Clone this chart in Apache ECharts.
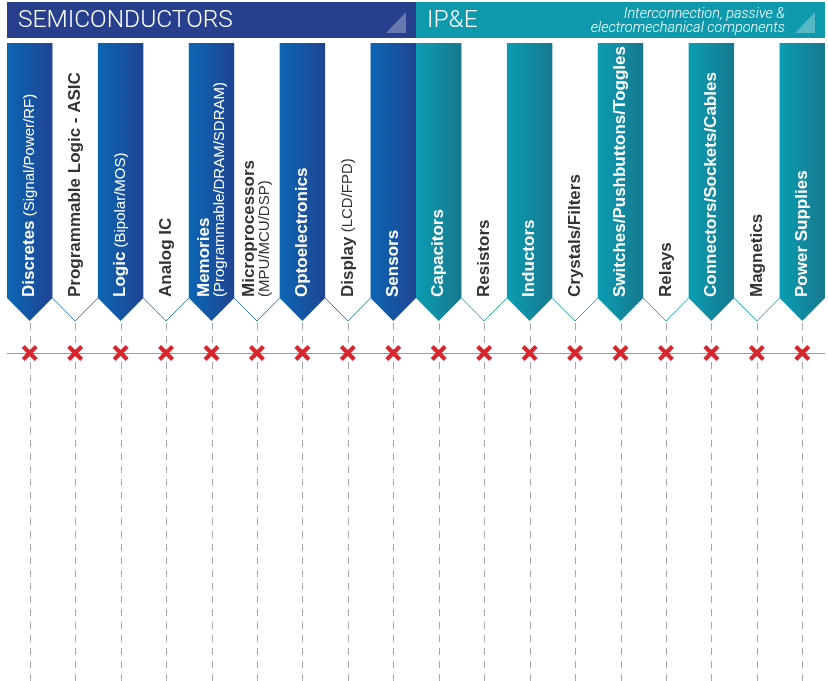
<!DOCTYPE html>
<html><head><meta charset="utf-8">
<script src="https://cdn.jsdelivr.net/npm/echarts@6/dist/echarts.min.js"></script>
<style>html,body{margin:0;padding:0;background:#fff}#c{width:828px;height:681px}</style>
</head><body><div id="c"></div>
<script>
// ---- data ----
const categories = ['Discretes','Programmable Logic - ASIC','Logic','Analog IC','Memories','Microprocessors','Optoelectronics','Display','Sensors','Capacitors','Resistors','Inductors','Crystals/Filters','Switches/Pushbuttons/Toggles','Relays','Connectors/Sockets/Cables','Magnetics','Power Supplies'];
const subLabels = ['(Signal/Power/RF)','','(Bipolar/MOS)','','(Programmable/DRAM/SDRAM)','(MPU/MCU/DSP)','','(LCD/FPD)','','','','','','','','','',''];
const subOnNewLine = [0,0,0,0,1,1,0,0,0,0,0,0,0,0,0,0,0,0];
const groupOf = [0,0,0,0,0,0,0,0,0,1,1,1,1,1,1,1,1,1];
const filled = [1,0,1,0,1,0,1,0,1,1,0,1,0,1,0,1,0,1];
const markers = [1,1,1,1,1,1,1,1,1,1,1,1,1,1,1,1,1,1];
const groupNames = ['SEMICONDUCTORS','IP&E'];
const groupStart = [0, 9];
const groupEnd = [8, 17];
const groupNotes = ['', 'Interconnection, passive &\nelectromechanical components'];

// ---- layout / style ----
const HEADER_TOP = 2, HEADER_BOTTOM = 38, BANNER_TOP = 43, BANNER_SIDE = 298, BANNER_TIP = 321, MARK_ROW = 353, AXIS_BOTTOM = 681;
const headerColors = ['#283f8e', '#0e99ad'];
const bannerGrad = [['#0b66b4', '#1f4493'], ['#0a9db2', '#17788f']];
const outlineColors = ['#2a79c2', '#22a8b8'];
const FONT = 'Liberation Sans, Arial, sans-serif';

const chart = echarts.init(document.getElementById('c'));

function bannerItem(params, api) {
  const i = api.value(0);
  const g = groupOf[i];
  const w = api.size([1, 0])[0];
  const cx = api.coord([i, BANNER_TOP])[0];
  const left = cx - w / 2, right = cx + w / 2;
  const top = api.coord([i, BANNER_TOP])[1];
  const side = api.coord([i, BANNER_SIDE])[1];
  const tip = api.coord([i, BANNER_TIP])[1];
  const bottom = api.coord([i, AXIS_BOTTOM])[1];
  const lx = Math.round(cx) + 0.5;
  const children = [];
  children.push({type: 'line', shape: {x1: lx, y1: tip + 2, x2: lx, y2: bottom},
    style: {stroke: '#a8a8a8', lineWidth: 1, lineDash: [7, 6]}});
  const isFilled = filled[i] === 1;
  if (isFilled) {
    children.push({type: 'polygon', shape: {points: [[left, top], [right, top], [right, side], [cx, tip], [left, side]]},
      style: {fill: new echarts.graphic.LinearGradient(0, 0, 1, 0, [{offset: 0, color: bannerGrad[g][0]}, {offset: 1, color: bannerGrad[g][1]}])}});
  } else {
    children.push({type: 'polyline', shape: {points: [[left, side], [cx, tip], [right, side]]},
      style: {stroke: outlineColors[g], lineWidth: 1, fill: null}});
  }
  const col = isFilled ? '#ffffff' : '#333333';
  let txt = '{b|' + categories[i] + '}';
  if (subLabels[i]) txt += subOnNewLine[i] ? '\n{l|' + subLabels[i] + '}' : '{l| ' + subLabels[i] + '}';
  children.push({type: 'text', x: cx, y: side - 1, rotation: Math.PI / 2,
    style: {text: txt, x: 0, y: 0, align: 'left', verticalAlign: 'middle', fill: col,
      fontFamily: FONT, fontSize: 15,
      rich: {b: {fontSize: 17, fontWeight: 'bold', fontFamily: FONT, fill: col, lineHeight: 16},
             l: {fontSize: 15, fontFamily: FONT, fill: col, lineHeight: 15}}}});
  return {type: 'group', children};
}

function headerItem(params, api) {
  const k = params.dataIndex;
  const s = groupStart[k], e = groupEnd[k];
  const w = api.size([1, 0])[0];
  const x0 = api.coord([s, HEADER_TOP])[0] - w / 2;
  const x1 = api.coord([e, HEADER_TOP])[0] + w / 2;
  const y0 = api.coord([s, HEADER_TOP])[1];
  const y1 = api.coord([s, HEADER_BOTTOM])[1];
  const children = [
    {type: 'rect', shape: {x: x0, y: y0, width: x1 - x0, height: y1 - y0}, style: {fill: headerColors[k]}},
    {type: 'polygon', shape: {points: [[x1 - 30, y1 - 5], [x1 - 10, y1 - 5], [x1 - 10, y0 + 10]]}, style: {fill: 'rgba(255,255,255,0.3)'}},
    {type: 'text', style: {text: groupNames[k], x: x0 + 11, y: (y0 + y1) / 2 + 1, align: 'left', verticalAlign: 'middle',
      fill: '#ffffff', fontFamily: 'Roboto', fontWeight: 300, fontSize: 24.5}}
  ];
  if (groupNotes[k]) {
    children.push({type: 'text', style: {text: groupNotes[k], x: x1 - 40, y: (y0 + y1) / 2 + 1, align: 'right', verticalAlign: 'middle',
      fill: '#ffffff', fontFamily: 'Roboto', fontWeight: 300, fontStyle: 'italic', fontSize: 14.5, lineHeight: 14}});
  }
  return {type: 'group', children};
}

const xPath = 'path://M3,0 L8,5 L13,0 L16,3 L11,8 L16,13 L13,16 L8,11 L3,16 L0,13 L5,8 L0,3 Z';

chart.setOption({
  animation: false,
  grid: {left: 7, right: 3, top: 0, bottom: 0},
  xAxis: {type: 'category', data: categories, show: false, boundaryGap: true},
  yAxis: {type: 'value', min: 0, max: 681, inverse: true, show: false},
  series: [
    {type: 'custom', renderItem: headerItem, data: groupStart.map((s, k) => [s, groupEnd[k]]), silent: true, z: 1},
    {type: 'custom', renderItem: bannerItem, data: categories.map((c, i) => [i, BANNER_TOP]), silent: true, z: 2},
    {type: 'scatter', data: markers.map((m, i) => [i, MARK_ROW]), symbol: xPath, symbolSize: 16,
      itemStyle: {color: '#d7262e', opacity: 1}, z: 5, silent: true,
      markLine: {silent: true, symbol: 'none', label: {show: false},
        lineStyle: {color: '#9a9a9a', width: 1, type: 'solid'},
        data: [{yAxis: MARK_ROW}]}}
  ]
});
</script>
</body></html>
